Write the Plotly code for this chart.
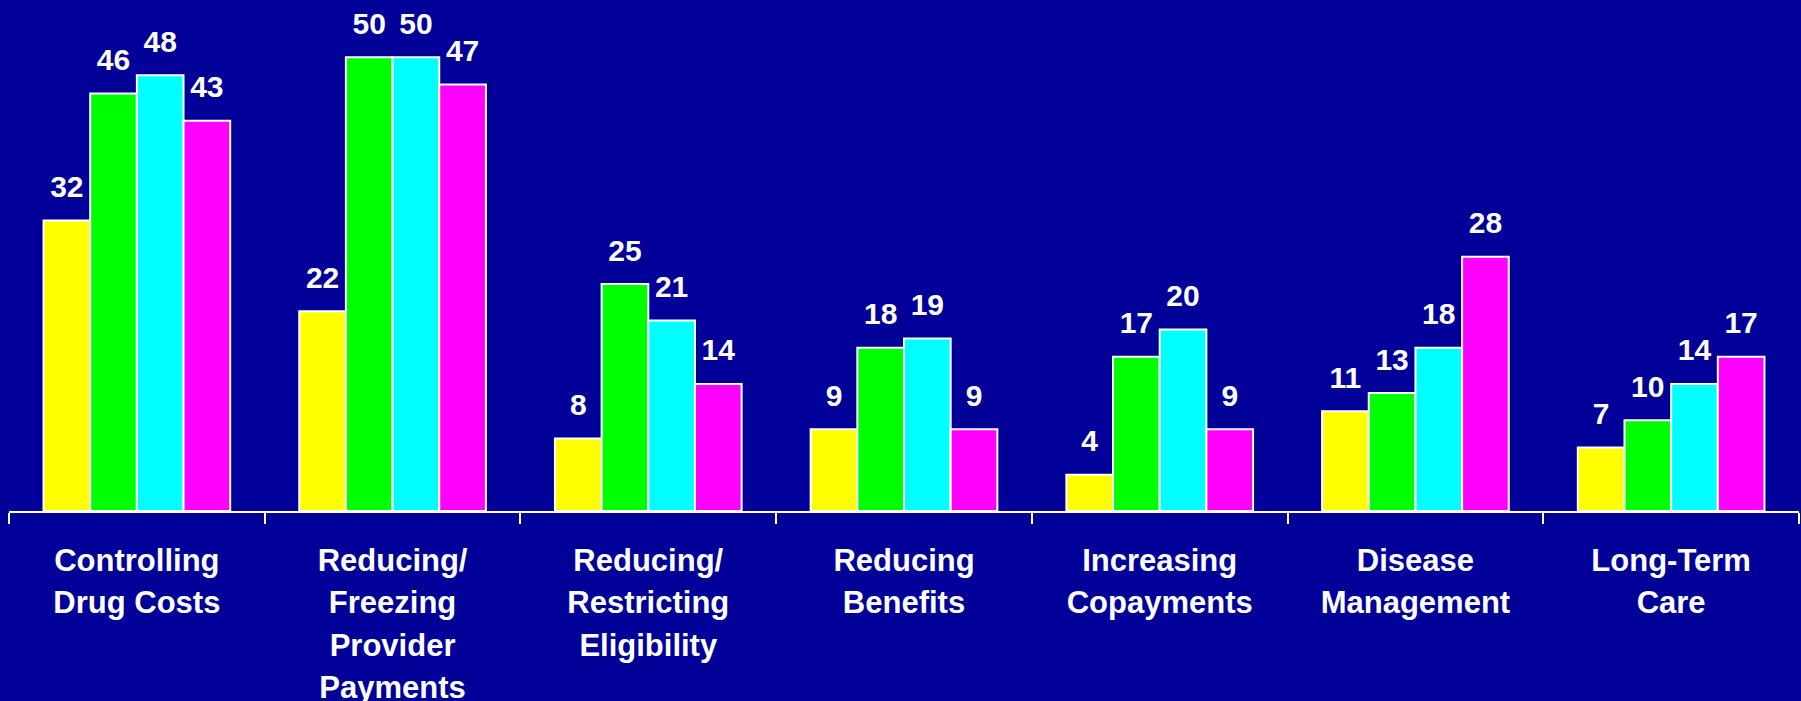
import plotly.graph_objects as go

# Budget action categories (x axis)
categories = [
    "Controlling Drug Costs",
    "Reducing/Freezing Provider Payments",
    "Reducing/Restricting Eligibility",
    "Reducing Benefits",
    "Increasing Copayments",
    "Disease Management",
    "Long-Term Care",
]
tick_labels = [
    "Controlling<br>Drug Costs",
    "Reducing/<br>Freezing<br>Provider<br>Payments",
    "Reducing/<br>Restricting<br>Eligibility",
    "Reducing<br>Benefits",
    "Increasing<br>Copayments",
    "Disease<br>Management",
    "Long-Term<br>Care",
]

# Number of states per category, one list per series
series_names = ["Series 1", "Series 2", "Series 3", "Series 4"]
series_1 = [32, 22, 8, 9, 4, 11, 7]
series_2 = [46, 50, 25, 18, 17, 13, 10]
series_3 = [48, 50, 21, 19, 20, 18, 14]
series_4 = [43, 47, 14, 9, 9, 28, 17]
series_colors = ["#FFFF00", "#00FF00", "#00FFFF", "#FF00FF"]

BG = "#000099"
FONT = "Liberation Sans, Arial, sans-serif"

fig = go.Figure()
all_series = [series_1, series_2, series_3, series_4]

for name, vals, color in zip(series_names, all_series, series_colors):
    fig.add_trace(go.Bar(
        x=categories, y=vals, name=name, offsetgroup=name,
        marker=dict(color=color, line=dict(color="white", width=2)),
        showlegend=False, hoverinfo="skip",
    ))

# Value labels above each bar, grouped the same way as the bars
for name, vals in zip(series_names, all_series):
    fig.add_trace(go.Scatter(
        x=categories, y=vals, offsetgroup=name, mode="markers+text",
        text=[str(v) for v in vals], textposition="top center",
        textfont=dict(family=FONT, size=30, color="white", weight="bold"),
        marker=dict(size=24, color="rgba(0,0,0,0)"),
        showlegend=False, hoverinfo="skip", cliponaxis=False,
    ))

fig.update_layout(
    width=1801, height=701,
    paper_bgcolor=BG, plot_bgcolor=BG,
    margin=dict(l=9, r=2, t=10, b=190),
    barmode="group", bargap=0.27, bargroupgap=0,
    scattermode="group", scattergap=0.27,
    xaxis=dict(
        type="category", tickson="boundaries",
        tickvals=categories,
        ticktext=["<span style='font-size:31px'>%s</span>" % t for t in tick_labels],
        ticks="outside", ticklen=11, tickwidth=2, tickcolor="white",
        showline=True, linecolor="white", linewidth=2,
        showgrid=False, zeroline=False, automargin=False,
        tickfont=dict(family=FONT, size=32.5, color="white", weight="bold"),
        ticklabelstandoff=19,
    ),
    yaxis=dict(range=[0, 55.2], visible=False, showgrid=False, zeroline=False,
               automargin=False),
)

fig.write_html("out.html")
